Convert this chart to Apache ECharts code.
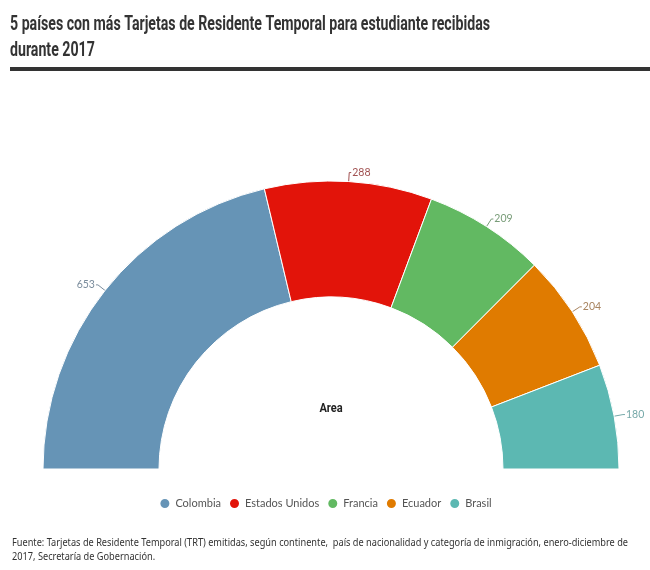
<!DOCTYPE html>
<html><head><meta charset="utf-8">
<script src="https://cdn.jsdelivr.net/npm/echarts@6/dist/echarts.min.js"></script>
<style>html,body{margin:0;padding:0;background:#fff}#c{width:650px;height:570px}</style>
</head><body><div id="c"></div>
<script>
const categories = ['Colombia', 'Estados Unidos', 'Francia', 'Ecuador', 'Brasil'];
const values = [653, 288, 209, 204, 180];
const colors = ['#6694b6', '#e2140a', '#62b962', '#e07b00', '#5cb8b2'];
const labelColors = ['#7a8c9c', '#a05050', '#789c78', '#a88460', '#76a9a9'];
const titleLines = ['5 países con más Tarjetas de Residente Temporal para estudiante recibidas', 'durante 2017'];
const sourceLines = ['Fuente: Tarjetas de Residente Temporal (TRT) emitidas, según continente,  país de nacionalidad y categoría de inmigración, enero-diciembre de', '2017, Secretaría de Gobernación.'];
const centerLabel = 'Area';

function fitScale(text, font, target) {
  const ctx = document.createElement('canvas').getContext('2d');
  ctx.font = font;
  return target / ctx.measureText(text).width;
}
const titleFont = 'bold 20px Roboto';
const titleScale = fitScale(titleLines[0], titleFont, 480);
const srcFont = '10px "Noto Sans"';
const srcScale = fitScale(sourceLines[0], srcFont, 616);

const chart = echarts.init(document.getElementById('c'));
chart.setOption({
  animation: false,
  graphic: [
    { type: 'text', x: 10, y: 25, scaleX: titleScale, style: { text: titleLines[0], font: titleFont, fill: '#333', verticalAlign: 'middle' } },
    { type: 'text', x: 10, y: 51, scaleX: titleScale, style: { text: titleLines[1], font: titleFont, fill: '#333', verticalAlign: 'middle' } },
    { type: 'rect', shape: { x: 10, y: 67, width: 640, height: 4 }, style: { fill: '#333' } },
    { type: 'text', x: 12, y: 543, scaleX: srcScale, style: { text: sourceLines[0], font: srcFont, fill: '#333', verticalAlign: 'middle' } },
    { type: 'text', x: 12, y: 557, scaleX: srcScale, style: { text: sourceLines[1], font: srcFont, fill: '#333', verticalAlign: 'middle' } },
    { type: 'text', x: 331, y: 409, scaleX: 0.85, style: { text: centerLabel, font: 'bold 13px Roboto', fill: '#222', align: 'center', verticalAlign: 'middle' } }
  ],
  legend: {
    bottom: 55, left: 'center',
    icon: 'circle', itemWidth: 11, itemHeight: 11, itemGap: 7,
    textStyle: { fontFamily: 'Lato', fontSize: 11, color: '#555' },
    data: categories
  },
  series: [{
    type: 'pie',
    center: [331, 469],
    radius: [172, 288],
    startAngle: 180,
    endAngle: 0,
    clockwise: true,
    itemStyle: { borderColor: '#fff', borderWidth: 1 },
    label: { show: true, fontFamily: 'Lato', fontSize: 10.5, formatter: '{c}', overflow: 'none', distanceToLabelLine: 1 },
    labelLine: { show: true, length: 9, length2: 2, lineStyle: { width: 1 } },
    data: categories.map((n, i) => ({
      name: n, value: values[i],
      itemStyle: { color: colors[i] },
      label: { color: labelColors[i] },
      labelLine: { lineStyle: { color: labelColors[i] } }
    }))
  }]
});
</script></body></html>
